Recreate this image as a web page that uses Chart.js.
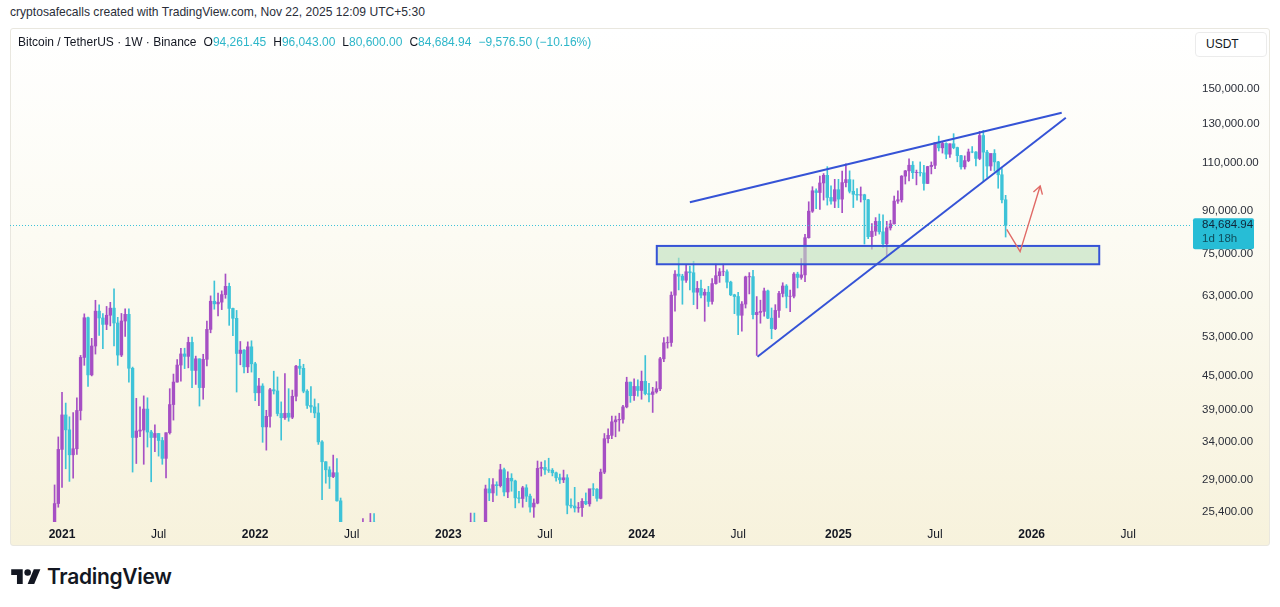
<!DOCTYPE html>
<html><head><meta charset="utf-8">
<script src="https://cdn.jsdelivr.net/npm/chart.js@4.4.1/dist/chart.umd.min.js"></script>
<style>
html,body{margin:0;padding:0;background:#fff;width:1280px;height:607px;overflow:hidden;font-family:"Liberation Sans",Arial,sans-serif;}
#hdr{position:absolute;left:10px;top:5px;font-size:12.1px;color:#2a2e39;white-space:nowrap;}
#bg{position:absolute;left:10px;top:28px;width:1260px;height:518px;box-sizing:border-box;border:1px solid #e9e7df;border-radius:3px;background:linear-gradient(#ffffff 0%,#fcfbf3 40%,#f7f2dc 100%);}
#wrap{position:absolute;left:10px;top:28px;width:1260px;height:518px;}
#legend{position:absolute;left:18px;top:35px;font-size:12px;color:#131722;white-space:nowrap;}
#legend .v{color:#2db6c9}
#legend .g{margin-left:7px}
#usdt{position:absolute;left:1195px;top:32px;width:72px;height:25px;box-sizing:border-box;border:1px solid #ebebeb;border-radius:4px;background:#fff;font-size:12px;line-height:23px;padding-left:10px;color:#131722}
#logo{position:absolute;left:11px;top:566px;}
#logotext{position:absolute;left:47px;top:564px;font-family:Inter,Roboto,sans-serif;font-weight:600;font-size:21px;color:#131722;letter-spacing:-0.3px}
</style></head>
<body>
<div id="hdr">cryptosafecalls created with TradingView.com, Nov 22, 2025 12:09 UTC+5:30</div>
<div id="bg"></div>
<div id="wrap"><canvas id="c" width="1260" height="518"></canvas></div>
<div id="legend"><span>Bitcoin / TetherUS · 1W · Binance</span><span class="g">O</span><span class="v">94,261.45</span><span class="g">H</span><span class="v">96,043.00</span><span class="g">L</span><span class="v">80,600.00</span><span class="g">C</span><span class="v">84,684.94</span><span class="g v">−9,576.50 (−10.16%)</span></div>
<div id="usdt">USDT</div>
<svg id="logo" width="30" height="23" viewBox="0 0 36 28"><path d="M14 22H7V11H0V4h14v18zM28 22h-8l7.5-18h8L28 22z" fill="#131722"/><circle cx="20" cy="8" r="4" fill="#131722"/></svg>
<div id="logotext">TradingView</div>
<script>
// Weekly candles BTC/USDT (Binance), first candle = week of 2020-12-21 (week index -2, where 0 = week of 2021-01-04)
const firstWeek = -2;
const opens = [
23455,26281,
33000,38150,35830,32260,33090,38870,48580,57410,45140,50970,59020,57350,55820,58010,59770,56150,49070,56620,58240,46420,34700,35650,35800,39100,35500,34700,35290,34260,31780,35400,39850,43800,47050,49300,48800,51750,46000,48300,42800,48200,54660,61530,60850,61300,63270,65500,59700,57270,49400,50100,46700,50800,
47300,41870,43080,36280,37920,42410,42200,38380,37700,38420,37780,41260,46830,46410,42150,39700,39450,38470,34060,31330,30290,29440,29920,26580,20550,21030,19300,20850,20800,22580,23300,23180,24300,21520,20050,19800,21830,19420,18930,19300,19420,19200,19560,20900,20900,16330,16280,16430,17100,17100,16740,16840,
16620,17130,20880,22710,23740,22940,21780,24300,23490,22170,22130,27950,27480,28450,28330,30300,27590,29230,28900,26920,26850,28080,27110,25900,26330,30470,30590,30280,30230,29910,29290,29040,29290,26100,26010,25800,25840,26530,26250,27970,27920,26860,29990,34520,35010,37060,37360,37450,39460,43790,41370,43000,
42280,43930,41730,41580,42030,42580,48300,51660,51730,63110,68960,68370,67210,69650,69360,63910,64940,63120,63900,61480,66270,68510,69650,69650,66670,63210,62770,58000,60800,68160,68250,58160,58710,58950,64250,57300,54840,59200,63580,65600,62820,62850,68970,68010,68730,80370,89850,97900,97190,101170,104460,95190,93740,
98360,94520,101330,102620,97700,96460,96150,96270,94270,80730,82600,86080,82390,78360,83760,85170,93750,94280,104120,106450,109000,105640,105730,105570,100960,108390,108960,119840,117270,119450,114200,119290,117400,113490,108250,111140,115270,115230,112160,123500,115170,108640,114550,110540,104720,94261.45
];
const highs = [
28422,34778,
41950,40100,37850,38530,41000,49000,58350,57540,52640,61780,60630,58420,60200,61250,64850,57500,58450,59600,59600,46650,40900,39480,41330,41000,35750,36600,35300,34700,35400,42600,45300,48150,50500,50500,52900,52920,48850,48300,49230,56600,62930,67000,63700,64270,69000,66400,59800,59200,51950,50200,51870,52100,
47600,44500,43500,38900,42650,45850,44750,40300,45400,42600,42350,47000,48200,47200,42420,42970,40800,40020,34240,31350,30680,32220,31750,26900,22000,21530,22500,21650,24280,24670,23650,25210,25200,22000,20580,22800,22800,19950,20400,20480,19950,19700,21090,21480,21050,17190,16750,17400,17430,18390,17060,16950,
17400,21650,23370,23820,24250,23450,25250,25250,23900,22600,28400,29200,29200,28800,31000,30500,30040,29800,29000,27670,28260,28450,27350,26800,31430,31300,31500,31800,30450,30000,29750,30250,29680,26820,28140,26400,26840,27480,27300,28580,27990,30380,35280,35980,37980,37970,38420,39700,44700,43800,44400,44200,
45880,48970,43580,42840,43880,48590,52800,52980,64000,69990,73780,68920,71770,71300,72800,66870,67230,64730,65500,67700,71980,70600,71980,70200,66950,63370,63860,61450,68380,69400,70080,62750,61800,65000,64480,59810,60650,64130,66500,66000,64480,69400,69520,73620,81500,93480,99590,98690,104090,105250,108350,99960,102740,
102720,106400,109590,106460,102500,98830,99480,96500,94420,85300,87460,88780,88500,86100,86500,95760,97900,104360,106660,111980,110720,106800,110530,108950,108530,110530,120000,123220,120250,119800,119310,124470,117630,113650,113380,116670,117900,115400,125700,126200,116000,113990,116400,110800,107500,96043
];
const lows = [
22700,25880,
28130,30420,28850,29240,32300,37350,47000,43000,44950,49270,53270,50430,54600,55470,51000,47000,48750,53050,43800,30000,31100,34800,31000,33330,28800,32700,32080,31000,29280,35200,37330,43780,43950,46350,46500,42800,43370,39600,40750,46900,53880,59500,57820,59400,62300,55600,53250,42000,47100,45500,45560,45680,
40500,39650,34000,32900,36250,41650,38000,34320,37450,37150,37550,40470,45200,41870,39200,38540,37700,33700,26700,28630,28000,29300,26560,17620,19600,18600,19000,18900,20750,20700,22400,22700,20800,19500,19550,18550,19320,18150,18470,19050,18190,18650,19230,20050,15590,15820,15480,16000,16750,16530,16300,16330,
16500,17100,20400,22300,22500,21350,21350,22750,21970,19550,21900,26600,26500,27200,28170,27130,26940,27680,25810,26360,25880,26500,25350,24800,26250,29500,29700,29950,29520,28860,28600,28700,25170,25800,25360,25330,24900,26150,25990,27160,26540,26800,29800,33900,34520,34800,35630,36840,39300,40220,40550,41300,
40750,41500,40280,38550,41800,42260,47700,50520,50900,59000,64530,60760,66600,64500,60660,59600,62390,56550,60190,60750,66100,66600,68500,65070,63000,58400,53480,54260,59800,63450,57120,49000,56100,57800,57200,52550,54590,57490,62650,59830,58900,62420,65060,67480,66800,80220,89380,90790,90500,94150,92180,92520,91200,
91200,89260,99500,97000,91230,94090,93390,78260,80050,76610,81130,81600,77150,74500,83000,85140,92800,93350,100720,102000,103070,100370,104150,98200,100870,105100,107450,115740,114720,112000,112650,116800,110580,107260,107270,110620,114860,108650,111560,102000,103530,106620,106300,98950,93000,80600
];
const closes = [
26281,33000,
38150,35830,32260,33090,38870,48580,57410,45140,50970,59020,57350,55820,58010,59770,56150,49070,56620,58240,46420,34700,35650,35800,39100,35500,34700,35290,34260,31780,35400,39850,43800,47050,49300,48800,51750,46000,48300,42800,48200,54660,61530,60850,61300,63270,65500,59700,57270,49400,50100,46700,50800,47300,
41870,43080,36280,37920,42410,42200,38380,37700,38420,37780,41260,46830,46410,42150,39700,39450,38470,34060,31330,30290,29440,29920,26580,20550,21030,19300,20850,20800,22580,23300,23180,24300,21520,20050,19800,21830,19420,18930,19300,19420,19200,19560,20900,20900,16330,16280,16430,17100,17100,16740,16840,16620,
17130,20880,22710,23740,22940,21780,24300,23490,22170,22130,27950,27480,28450,28330,30300,27590,29230,28900,26920,26850,28080,27110,25900,26330,30470,30590,30280,30230,29910,29290,29040,29290,26100,26010,25800,25840,26530,26250,27970,27920,26860,29990,34520,35010,37060,37360,37450,39460,43790,41370,43000,42280,
43930,41730,41580,42030,42580,48300,51660,51730,63110,68960,68370,67210,69650,69360,63910,64940,63120,63900,61480,66270,68510,69650,69650,66670,63210,62770,58000,60800,68160,68250,58160,58710,58950,64250,57300,54840,59200,63580,65600,62820,62850,68970,68010,68730,80370,89850,97900,97190,101170,104460,95190,93740,98360,
94520,101330,102620,97700,96460,96150,96270,94270,80730,82600,86080,82390,78360,83760,85170,93750,94280,104120,106450,109000,105640,105730,105570,100960,108390,108960,119840,117270,119450,114200,119290,117400,113490,108250,111140,115270,115230,112160,123500,115170,108640,114550,110540,104720,94261.45,84684.94
];
// Axis ticks
const yTicks = [150000,130000,110000,90000,75000,63000,53000,45000,39000,34000,29000,25400];
const xTickWeeks  = [0,26,52,78,104,130,156,182,209,235,261,287];
const xTickLabels = ['2021','Jul','2022','Jul','2023','Jul','2024','Jul','2025','Jul','2026','Jul'];
// Visible ranges
const xRange = [-14.0, 303.63];
const yRange = [24320, 194100];
// Drawings (week index, price)
const zoneBox = {w0:160.1, w1:279.2, p0:71880, p1:77640};
const upperLine = [[169.0,93290],[269.1,135950]];
const lowerLine = [[187.2,48720],[270.2,133130]];
const arrowPath = [[254.3,83270],[257.9,75800],[263.3,99900]];
const lastPrice = 84684.94;
const countdown = '1d 18h';

const UP = '#a64fc4', DOWN = '#3ec3d8';
const colors = closes.map((c,i)=> c >= opens[i] ? UP : DOWN);
const bodyData = closes.map((c,i)=>({x:firstWeek+i, y:[opens[i], c]}));
const wickData = closes.map((c,i)=>({x:firstWeek+i, y:[lows[i], highs[i]]}));
const fmt = v => v.toLocaleString('en-US',{minimumFractionDigits:2, maximumFractionDigits:2});
const noPad = ax => { ax.paddingTop = 0; ax.paddingBottom = 0; ax.paddingLeft = 0; ax.paddingRight = 0; };

const drawings = {
  id:'drawings',
  afterDatasetsDraw(chart){
    const {ctx, scales:{x, y}} = chart;
    const px = w => x.getPixelForValue(w), py = p => y.getPixelForValue(p);
    const a = chart.chartArea;
    ctx.save();
    ctx.strokeStyle = '#3ec3d8'; ctx.lineWidth = 1; ctx.setLineDash([1,2]);
    const ly = Math.round(py(lastPrice))+0.5;
    ctx.beginPath(); ctx.moveTo(a.left, ly); ctx.lineTo(a.right, ly); ctx.stroke();
    ctx.setLineDash([]);
    const bx0 = px(zoneBox.w0), bx1 = px(zoneBox.w1), by0 = py(zoneBox.p1), by1 = py(zoneBox.p0);
    ctx.fillStyle = 'rgba(190,225,190,0.62)';
    ctx.fillRect(bx0, by0, bx1-bx0, by1-by0);
    ctx.strokeStyle = '#3553d6'; ctx.lineWidth = 2;
    ctx.strokeRect(bx0, by0, bx1-bx0, by1-by0);
    [upperLine, lowerLine].forEach(l=>{
      ctx.beginPath(); ctx.moveTo(px(l[0][0]), py(l[0][1])); ctx.lineTo(px(l[1][0]), py(l[1][1])); ctx.stroke();
    });
    ctx.strokeStyle = '#e06a66'; ctx.lineWidth = 1.4;
    ctx.beginPath();
    arrowPath.forEach((p,i)=>{ const X=px(p[0]), Y=py(p[1]); i?ctx.lineTo(X,Y):ctx.moveTo(X,Y); });
    ctx.stroke();
    const n = arrowPath.length;
    const ex = px(arrowPath[n-1][0]), ey = py(arrowPath[n-1][1]);
    const sx = px(arrowPath[n-2][0]), sy = py(arrowPath[n-2][1]);
    const ang = Math.atan2(ey-sy, ex-sx), L = 9;
    ctx.beginPath();
    ctx.moveTo(ex - L*Math.cos(ang-0.55), ey - L*Math.sin(ang-0.55));
    ctx.lineTo(ex, ey);
    ctx.lineTo(ex - L*Math.cos(ang+0.55), ey - L*Math.sin(ang+0.55));
    ctx.stroke();
    ctx.restore();
  },
  afterDraw(chart){
    const {ctx, scales:{y}} = chart;
    const yy = y.getPixelForValue(lastPrice);
    const left = y.left + 3;
    ctx.save();
    ctx.fillStyle = '#27bdd6';
    ctx.beginPath(); ctx.roundRect(left, yy-7, 61, 31, 2); ctx.fill();
    ctx.font = '11.5px "Liberation Sans", Arial, sans-serif';
    ctx.textBaseline = 'middle'; ctx.textAlign = 'left';
    ctx.fillStyle = '#10263a';
    ctx.fillText(fmt(lastPrice), y.left + 12, yy);
    ctx.fillStyle = '#0f4e5c';
    ctx.fillText(countdown, y.left + 12, yy + 14);
    ctx.restore();
  }
};

new Chart(document.getElementById('c'), {
  type:'bar',
  data:{ datasets:[
    { data: bodyData, backgroundColor: colors, barThickness: 2.7, grouped:false, borderWidth:0, clip:0 },
    { data: wickData, backgroundColor: colors, barThickness: 1, grouped:false, borderWidth:0, clip:0 }
  ]},
  options:{
    responsive:false, animation:false, devicePixelRatio:1,
    layout:{padding:0},
    plugins:{legend:{display:false}, tooltip:{enabled:false}},
    scales:{
      x:{ type:'linear', min:xRange[0], max:xRange[1], offset:false,
          grid:{display:false, drawTicks:false}, border:{display:false},
          afterBuildTicks: ax => { ax.ticks = xTickWeeks.map(v=>({value:v})); },
          afterFit: ax => { ax.height = 24; noPad(ax); },
          ticks:{ autoSkip:false, maxRotation:0, padding:5, color:'#131722',
            callback: v => { const k = xTickWeeks.indexOf(v); return k<0 ? '' : xTickLabels[k]; },
            font: c => { const k = xTickWeeks.indexOf(c.tick && c.tick.value); const yr = k>=0 && xTickLabels[k] !== 'Jul';
              return {family:'"Liberation Sans", Arial, sans-serif', size:12, weight: yr ? 'bold':'normal'}; } } },
      y:{ type:'logarithmic', position:'right', min:yRange[0], max:yRange[1], bounds:'data',
          grid:{display:false, drawTicks:false}, border:{display:false},
          afterBuildTicks: ax => { ax.ticks = yTicks.map(v=>({value:v})); },
          afterFit: ax => { ax.width = 80; noPad(ax); },
          ticks:{ autoSkip:false, crossAlign:'near', padding:12, color:'#2a2e39',
            font:{family:'"Liberation Sans", Arial, sans-serif', size:11.5},
            callback: v => fmt(v) } }
    }
  },
  plugins:[drawings]
});
</script>
</body></html>
